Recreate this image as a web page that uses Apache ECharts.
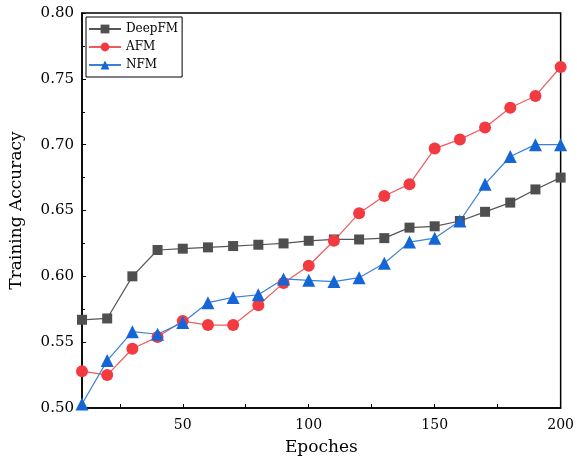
<!DOCTYPE html>
<html>
<head>
<meta charset="utf-8">
<script src="https://cdn.jsdelivr.net/npm/echarts@6/dist/echarts.min.js"></script>
<style>
  html, body { margin: 0; padding: 0; background: #fff; }
  #chart { width: 577px; height: 464px; }
</style>
</head>
<body>
<div id="chart"></div>
<script>
// epochs on the x axis
var epochs = [10, 20, 30, 40, 50, 60, 70, 80, 90, 100, 110, 120, 130, 140, 150, 160, 170, 180, 190, 200];
var deepFM = [0.567, 0.568, 0.600, 0.620, 0.621, 0.622, 0.623, 0.624, 0.625, 0.627, 0.628, 0.628, 0.629, 0.637, 0.638, 0.642, 0.649, 0.656, 0.666, 0.675];
var afm = [0.528, 0.525, 0.545, 0.554, 0.566, 0.563, 0.563, 0.578, 0.595, 0.608, 0.627, 0.648, 0.661, 0.670, 0.697, 0.704, 0.713, 0.728, 0.737, 0.759];
var nfm = [0.503, 0.536, 0.558, 0.556, 0.565, 0.580, 0.584, 0.586, 0.598, 0.597, 0.596, 0.599, 0.610, 0.626, 0.629, 0.642, 0.670, 0.691, 0.700, 0.700];
var xLabels = [50, 100, 150, 200];
var xTicks = [25, 50, 75, 100, 125, 150, 175, 200];

var font = 'DejaVu Serif';

function pairs(ys) {
  return epochs.map(function (x, i) { return [x, ys[i]]; });
}

var chart = echarts.init(document.getElementById('chart'));
chart.setOption({
  animation: false,
  grid: {
    left: 73, right: 13, top: 13, bottom: 56,
    show: true, borderColor: '#000', borderWidth: 1.5
  },
  legend: {
    left: 86, top: 17,
    orient: 'vertical',
    itemGap: 6,
    itemWidth: 32, itemHeight: 11,
    padding: [6, 4, 6, 2],
    borderColor: '#000', borderWidth: 1,
    textStyle: { fontFamily: font, fontSize: 12, color: '#000' },
    data: ['DeepFM', 'AFM', 'NFM']
  },
  xAxis: {
    type: 'value',
    min: 10, max: 200,
    name: 'Epoches', nameLocation: 'middle', nameGap: 31,
    nameTextStyle: { fontFamily: font, fontSize: 17, color: '#000' },
    axisLine: { lineStyle: { color: '#000', width: 1.5 } },
    axisTick: { inside: true, length: 4, customValues: xTicks, lineStyle: { color: '#000' } },
    axisLabel: { customValues: xLabels, fontFamily: font, fontSize: 14, color: '#000', margin: 10 },
    splitLine: { show: false }
  },
  yAxis: {
    type: 'value',
    min: 0.5, max: 0.8, interval: 0.05,
    name: 'Training Accuracy', nameLocation: 'middle', nameGap: 57,
    nameTextStyle: { fontFamily: font, fontSize: 17, color: '#000' },
    axisLine: { show: true, lineStyle: { color: '#000', width: 1.5 } },
    axisTick: { inside: true, length: 4, lineStyle: { color: '#000' } },
    minorTick: { show: true, splitNumber: 2, length: 3, lineStyle: { color: '#000' } },
    axisLabel: {
      fontFamily: font, fontSize: 15, color: '#000', margin: 8,
      formatter: function (v) { return v.toFixed(2); }
    },
    splitLine: { show: false }
  },
  series: [
    {
      name: 'DeepFM', type: 'line', data: pairs(deepFM),
      symbol: 'rect', symbolSize: 10,
      itemStyle: { color: '#4f4f4f' },
      lineStyle: { color: '#555', width: 1.2 }
    },
    {
      name: 'AFM', type: 'line', data: pairs(afm),
      symbol: 'circle', symbolSize: 12,
      itemStyle: { color: '#f23a40' },
      lineStyle: { color: '#ef5a5e', width: 1.2 }
    },
    {
      name: 'NFM', type: 'line', data: pairs(nfm),
      symbol: 'triangle', symbolSize: 13,
      itemStyle: { color: '#1466d6' },
      lineStyle: { color: '#3a80d8', width: 1.2 }
    }
  ]
});
</script>
</body>
</html>
